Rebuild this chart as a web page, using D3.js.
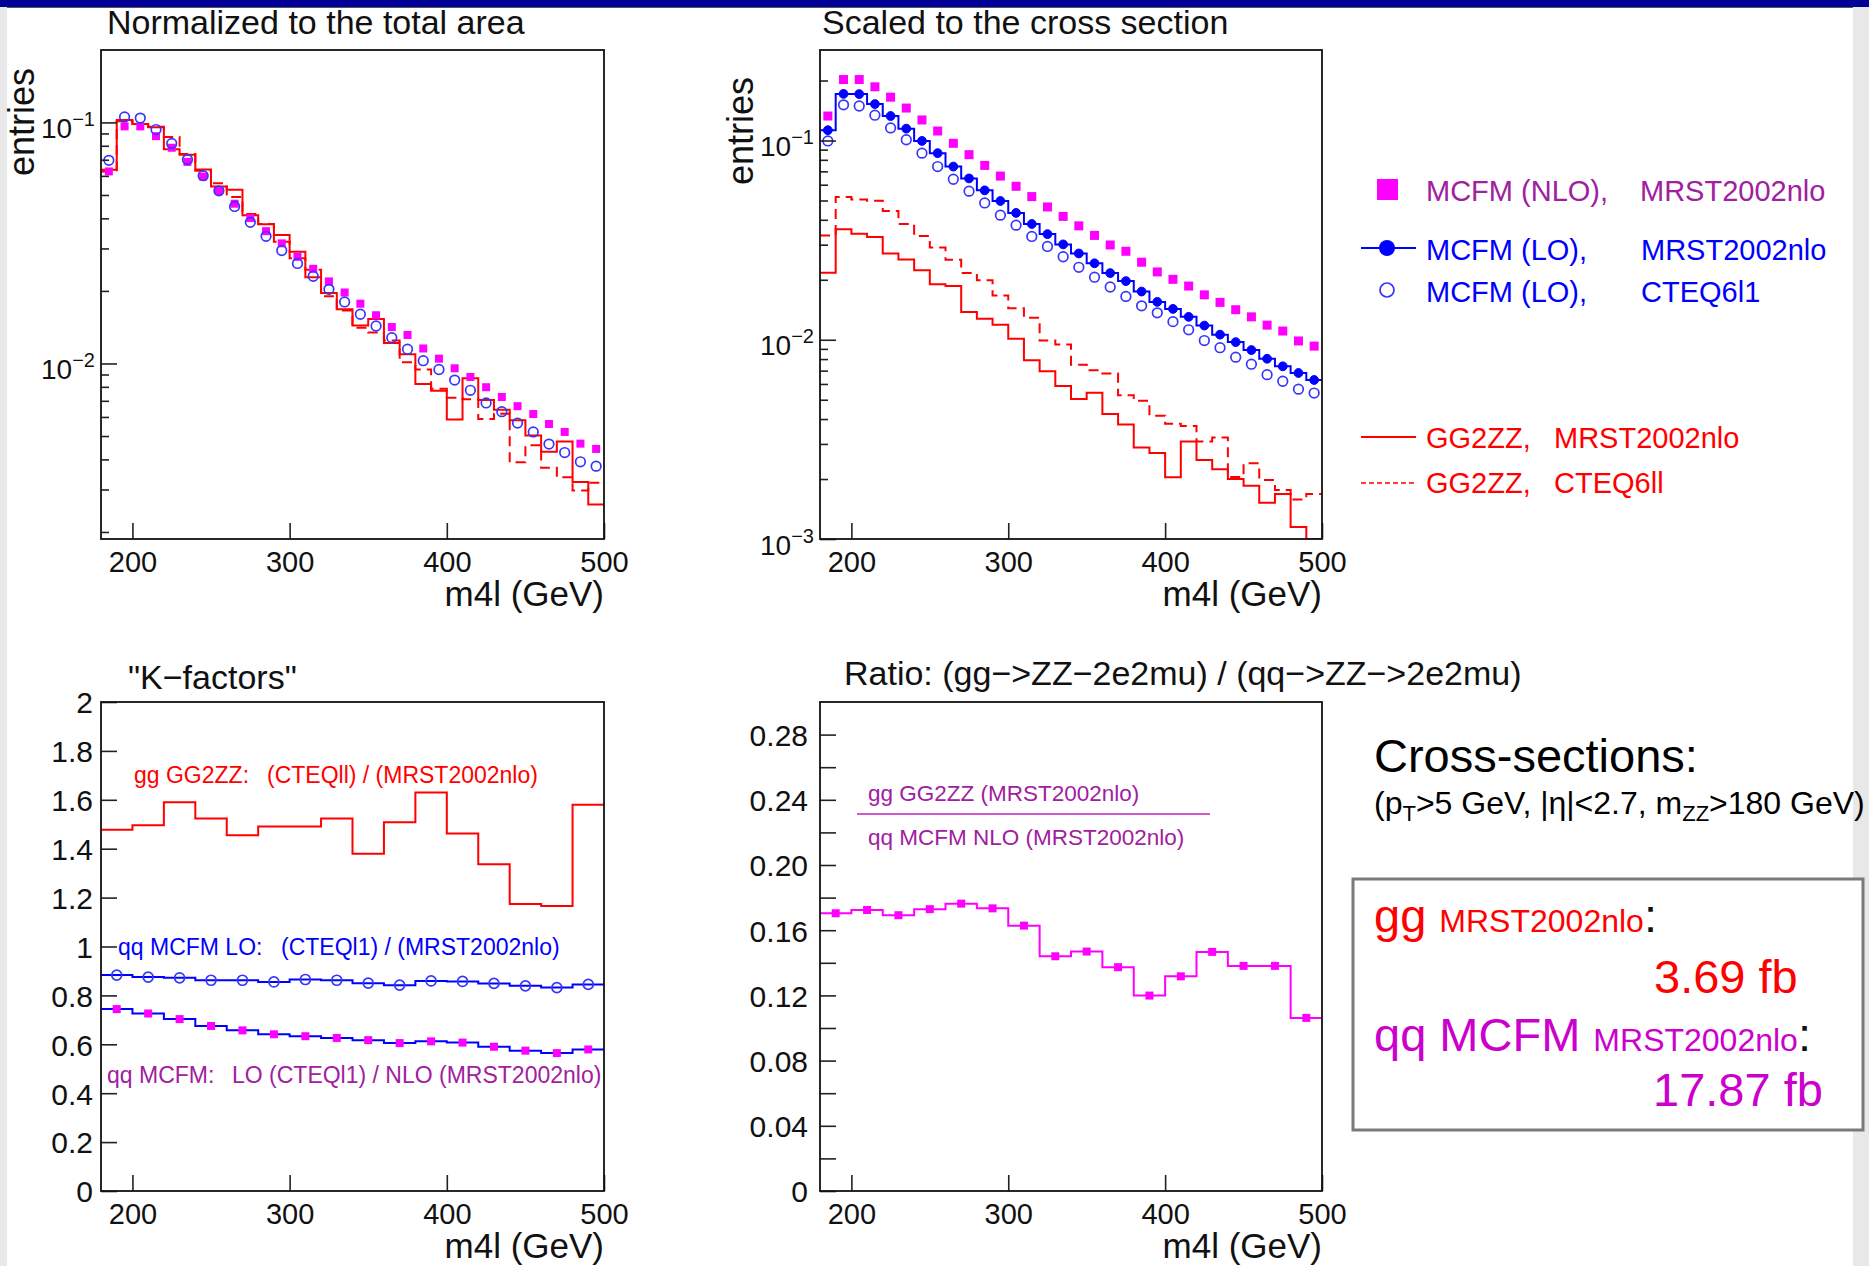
<!DOCTYPE html>
<html>
<head>
<meta charset="utf-8">
<script src="https://cdn.jsdelivr.net/npm/d3@7"></script>
<style>
  body { margin: 0; background: #fff; }
  svg { display: block; }
  text { font-family: "Liberation Sans", Arial, Helvetica, sans-serif; }
</style>
</head>
<body>
<svg id="fig" width="1869" height="1266"></svg>
<script>
// ---------- data ----------
// m4l bin centres (GeV): 10 GeV bins for the spectra, 20 GeV bins for the ratios
const massCenters10 = [185,195,205,215,225,235,245,255,265,275,285,295,305,315,325,335,
                       345,355,365,375,385,395,405,415,425,435,445,455,465,475,485,495];
const massCenters20 = [190,210,230,250,270,290,310,330,350,370,390,410,430,450,470,490];
const massRange = [180, 500];
const massTicks = [200, 300, 400, 500];

// Normalized to the total area
const normNLO = [0.0626,0.0963,0.0963,0.0877,0.0785,0.0686,0.0596,0.0519,0.0460,0.0401,0.0354,0.0315,
  0.0277,0.0247,0.0219,0.0197,0.0177,0.01585,0.01416,0.01313,0.01154,0.01047,0.00955,0.00879,
  0.00797,0.00726,0.00665,0.00617,0.00561,0.00520,0.00465,0.00442];
const normLOcteq = [0.0696,0.1054,0.1042,0.0934,0.0818,0.0701,0.0601,0.0520,0.0448,0.0385,0.0337,0.0294,
  0.0260,0.0230,0.0203,0.0180,0.0160,0.0143,0.0128,0.01146,0.01027,0.00944,0.00853,0.00774,
  0.00686,0.00631,0.00566,0.00520,0.00463,0.00427,0.00391,0.00375];
const normGGmrst = [0.0636,0.1023,0.0985,0.0955,0.0774,0.0734,0.0638,0.0542,0.0526,0.0412,0.0378,0.0341,
  0.0291,0.0228,0.0196,0.0168,0.01436,0.01531,0.01217,0.01091,0.00822,0.00771,0.00585,0.00869,
  0.00706,0.00643,0.00581,0.00503,0.00430,0.00475,0.00322,0.00260];
const normGGcteq = [0.0626,0.1010,0.0985,0.0960,0.0869,0.0739,0.0630,0.0559,0.0490,0.0417,0.0379,0.0320,
  0.0273,0.0245,0.0190,0.0166,0.01406,0.01343,0.01245,0.01011,0.00944,0.00785,0.00720,0.00711,
  0.00589,0.00619,0.00389,0.00458,0.00369,0.00337,0.00297,0.00320];

// Scaled to the cross section
const xsecNLO = [0.1327,0.2023,0.2023,0.186,0.165,0.1455,0.1268,0.1116,0.0968,0.0849,0.0750,0.0663,
  0.0589,0.0523,0.0464,0.0416,0.0373,0.0334,0.0299,0.0278,0.0245,0.0219,0.0201,0.0186,
  0.0168,0.0154,0.01415,0.01303,0.01184,0.01106,0.00986,0.00929];
const xsecLOmrst = [0.1126,0.1714,0.171,0.1524,0.1327,0.1147,0.0995,0.0864,0.0740,0.0645,0.0562,0.0497,
  0.0433,0.0381,0.0339,0.0301,0.0271,0.0242,0.0216,0.0197,0.01746,0.01549,0.01428,0.01303,
  0.01178,0.01061,0.00973,0.00888,0.00803,0.00736,0.00681,0.00628];
const xsecLOcteq = [0.0995,0.151,0.149,0.134,0.1157,0.1009,0.0864,0.0740,0.0639,0.0557,0.0486,0.0422,
  0.0376,0.0330,0.0294,0.0261,0.0231,0.0206,0.0184,0.0165,0.0148,0.01365,0.01233,0.01122,
  0.00991,0.00912,0.00818,0.00754,0.00668,0.00619,0.00565,0.00540];
const xsecGGmrst = [0.0217,0.0359,0.0340,0.0328,0.0271,0.0253,0.0223,0.0190,0.0186,0.01377,0.01274,0.01189,
  0.01013,0.00788,0.00694,0.00586,0.00504,0.00542,0.00424,0.00376,0.00288,0.00270,0.00204,0.00309,
  0.00249,0.00224,0.00200,0.00185,0.00152,0.00168,0.00115,0.00095];
const xsecGGcteq = [0.0334,0.0520,0.0506,0.0499,0.0443,0.0381,0.0332,0.0290,0.0252,0.0216,0.0199,0.0167,
  0.0144,0.0129,0.00991,0.00946,0.00750,0.00703,0.00678,0.00527,0.00494,0.00416,0.00379,0.00369,
  0.00309,0.00323,0.00205,0.00240,0.00198,0.00176,0.00158,0.00168];

// "K-factors"
const kGGcteqOverMrst = [1.477,1.496,1.590,1.524,1.455,1.491,1.491,1.524,1.379,1.508,1.630,1.462,1.336,1.174,1.166,1.580];
const kLOcteqOverMrst = [0.883,0.875,0.872,0.862,0.862,0.855,0.865,0.862,0.850,0.842,0.859,0.857,0.849,0.839,0.832,0.845];
const kLOcteqOverNLO  = [0.744,0.726,0.703,0.675,0.657,0.641,0.633,0.626,0.617,0.605,0.612,0.607,0.590,0.574,0.564,0.579];
const kFactorTicks = [0,0.2,0.4,0.6,0.8,1,1.2,1.4,1.6,1.8,2];

// gg / qq ratio
const ratioGGoverQQ = [0.1704,0.1724,0.1692,0.1729,0.1763,0.1734,0.1628,0.1440,0.1469,0.1373,0.1199,0.1317,0.1467,0.1381,0.1381,0.1062];
const ratioTicks = [0,0.04,0.08,0.12,0.16,0.20,0.24,0.28];
const ratioMinorTicks = [0.02,0.06,0.10,0.14,0.18,0.22,0.26];

// ---------- styling ----------
const C = {
  magenta: "#ff00ff", purpleText: "#a020a0", boxMagenta: "#cc00cc",
  blue: "#0000ff", openBlue: "#3535ff", red: "#ff0000", axis: "#111"
};
const W = 1869, H = 1266;
const svg = d3.select("#fig");

// page background and slide border
svg.append("rect").attr("width", W).attr("height", H).attr("fill", "#fff");
svg.append("rect").attr("x", 0).attr("y", 0).attr("width", 7).attr("height", H).attr("fill", "#e8e8e8");
svg.append("rect").attr("x", 1853).attr("y", 0).attr("width", 16).attr("height", H).attr("fill", "#e8e8e8");
svg.append("rect").attr("x", 0).attr("y", 0).attr("width", W).attr("height", 7).attr("fill", "#000096");
svg.append("line").attr("x1", 7).attr("x2", 1853).attr("y1", 7.5).attr("y2", 7.5)
  .attr("stroke", "#555").attr("stroke-width", 1);

function text(x, y, str, size, color, anchor) {
  return svg.append("text").attr("x", x).attr("y", y).attr("font-size", size)
    .attr("fill", color).attr("text-anchor", anchor || "start")
    .style("white-space", "pre").text(str);
}

let clipCount = 0;
function makePanel(box, yScale) {
  const x = d3.scaleLinear().domain(massRange).range([box.x0, box.x1]);
  const y = yScale.range([box.y1, box.y0]).clamp(true);
  const g = svg.append("g");
  const id = "plotclip" + (clipCount++);
  svg.append("clipPath").attr("id", id).append("rect")
    .attr("x", box.x0).attr("y", box.y0).attr("width", box.x1 - box.x0).attr("height", box.y1 - box.y0);
  const plot = g.append("g").attr("clip-path", `url(#${id})`);
  return { box, x, y, g, plot };
}

function styleAxis(sel, fontSize) {
  sel.select(".domain").remove();
  sel.selectAll(".tick line").attr("stroke", "#222").attr("stroke-width", 1.6);
  sel.selectAll(".tick text").attr("font-size", fontSize).attr("fill", C.axis);
}

function drawXAxis(p) {
  const ax = p.g.append("g").attr("transform", `translate(0,${p.box.y1})`)
    .call(d3.axisBottom(p.x).tickValues(massTicks).tickSizeInner(-16).tickSizeOuter(0)
      .tickPadding(12).tickFormat(d3.format("d")));
  styleAxis(ax, 29);
  text(p.box.x1, p.box.y1 + 67, "m4l (GeV)", 35, C.axis, "end");
}

function drawLinearYAxis(p, ticks, minorTicks, fmt, pad) {
  const ax = p.g.append("g").attr("transform", `translate(${p.box.x0},0)`)
    .call(d3.axisLeft(p.y).tickValues(ticks).tickSizeInner(-16).tickSizeOuter(0)
      .tickPadding(pad).tickFormat(fmt));
  styleAxis(ax, 30);
  ax.selectAll(".tick text").attr("dy", "0.36em");
  if (minorTicks) {
    const mx = p.g.append("g").attr("transform", `translate(${p.box.x0},0)`)
      .call(d3.axisLeft(p.y).tickValues(minorTicks).tickSizeInner(-16).tickSizeOuter(0).tickFormat(""));
    styleAxis(mx, 30);
  }
}

function drawLogYAxis(p, decades) {
  const ax = p.g.append("g").attr("transform", `translate(${p.box.x0},0)`)
    .call(d3.axisLeft(p.y).tickValues(decades).tickSizeInner(-16).tickSizeOuter(0)
      .tickPadding(6).tickFormat(""));
  styleAxis(ax, 28);
  ax.selectAll(".tick text").attr("dy", 15).each(function (d) {
    const t = d3.select(this);
    t.text("10");
    t.append("tspan").attr("dy", -12).attr("font-size", 20)
      .text("\u2212" + Math.round(-Math.log10(d)));
  });
  const minor = p.y.ticks().filter(v => Math.abs(Math.log10(v) - Math.round(Math.log10(v))) > 1e-6);
  const mx = p.g.append("g").attr("transform", `translate(${p.box.x0},0)`)
    .call(d3.axisLeft(p.y).tickValues(minor).tickSizeInner(-8).tickSizeOuter(0).tickFormat(""));
  styleAxis(mx, 28);
}

function drawFrame(p) {
  p.g.append("rect").attr("x", p.box.x0).attr("y", p.box.y0)
    .attr("width", p.box.x1 - p.box.x0).attr("height", p.box.y1 - p.box.y0)
    .attr("fill", "none").attr("stroke", C.axis).attr("stroke-width", 1.8);
}

// histogram outline drawn bin by bin
function stepHist(p, centers, values, binWidth, color, dash, width) {
  const pts = centers.map((c, i) => [c - binWidth / 2, values[i]]);
  pts.push([centers[centers.length - 1] + binWidth / 2, values[values.length - 1]]);
  const line = d3.line().x(d => p.x(d[0])).y(d => p.y(d[1])).curve(d3.curveStepAfter);
  p.plot.append("path").attr("d", line(pts)).attr("fill", "none")
    .attr("stroke", color).attr("stroke-width", width || 2)
    .attr("stroke-dasharray", dash || null);
}

function squares(p, centers, values, size, color) {
  p.plot.append("g").selectAll("rect").data(values).join("rect")
    .attr("x", (d, i) => p.x(centers[i]) - size / 2).attr("y", d => p.y(d) - size / 2)
    .attr("width", size).attr("height", size).attr("fill", color);
}

function circles(p, centers, values, r, color, filled) {
  p.plot.append("g").selectAll("circle").data(values).join("circle")
    .attr("cx", (d, i) => p.x(centers[i])).attr("cy", d => p.y(d)).attr("r", r)
    .attr("fill", filled ? color : "none").attr("stroke", color)
    .attr("stroke-width", filled ? 1 : 1.7);
}

// ---------- panel 1: normalized to the total area ----------
const p1 = makePanel({ x0: 101, x1: 604, y0: 50, y1: 539 }, d3.scaleLog().domain([0.00187, 0.1997]));
stepHist(p1, massCenters10, normGGmrst, 10, C.red, null, 2);
stepHist(p1, massCenters10, normGGcteq, 10, C.red, "10,6", 2);
squares(p1, massCenters10, normNLO, 8, C.magenta);
circles(p1, massCenters10, normLOcteq, 4.8, C.openBlue, false);
drawLogYAxis(p1, [0.1, 0.01]);
drawXAxis(p1);
drawFrame(p1);
text(107, 34, "Normalized to the total area", 34, C.axis);
text(34, 122, "entries", 36, C.axis, "middle").attr("transform", "rotate(-90,34,122)");

// ---------- panel 2: scaled to the cross section ----------
const p2 = makePanel({ x0: 820, x1: 1322, y0: 50, y1: 539 }, d3.scaleLog().domain([0.001, 0.2846]));
stepHist(p2, massCenters10, xsecGGmrst, 10, C.red, null, 2);
stepHist(p2, massCenters10, xsecGGcteq, 10, C.red, "10,6", 2);
stepHist(p2, massCenters10, xsecLOmrst, 10, C.blue, null, 2);
circles(p2, massCenters10, xsecLOmrst, 4.4, C.blue, true);
circles(p2, massCenters10, xsecLOcteq, 4.8, C.openBlue, false);
squares(p2, massCenters10, xsecNLO, 9, C.magenta);
drawLogYAxis(p2, [0.1, 0.01, 0.001]);
drawXAxis(p2);
drawFrame(p2);
text(822, 34, "Scaled to the cross section", 34, C.axis);
text(753, 131, "entries", 36, C.axis, "middle").attr("transform", "rotate(-90,753,131)");

// legend for the spectra
svg.append("rect").attr("x", 1377).attr("y", 179).attr("width", 21).attr("height", 21).attr("fill", C.magenta);
text(1426, 201, "MCFM (NLO),", 29, C.purpleText);
text(1640, 201, "MRST2002nlo", 29, C.purpleText);
svg.append("line").attr("x1", 1361).attr("x2", 1416).attr("y1", 248).attr("y2", 248)
  .attr("stroke", C.blue).attr("stroke-width", 2);
svg.append("circle").attr("cx", 1387).attr("cy", 248).attr("r", 8).attr("fill", C.blue);
text(1426, 260, "MCFM (LO),", 29, C.blue);
text(1641, 260, "MRST2002nlo", 29, C.blue);
svg.append("circle").attr("cx", 1387).attr("cy", 290).attr("r", 7)
  .attr("fill", "none").attr("stroke", C.openBlue).attr("stroke-width", 1.7);
text(1426, 302, "MCFM (LO),", 29, C.blue);
text(1641, 302, "CTEQ6l1", 29, C.blue);
svg.append("line").attr("x1", 1361).attr("x2", 1416).attr("y1", 437).attr("y2", 437)
  .attr("stroke", C.red).attr("stroke-width", 2);
text(1426, 448, "GG2ZZ,", 29, C.red);
text(1554, 448, "MRST2002nlo", 29, C.red);
svg.append("line").attr("x1", 1361).attr("x2", 1416).attr("y1", 483).attr("y2", 483)
  .attr("stroke", C.red).attr("stroke-width", 1.5).attr("stroke-dasharray", "5,3");
text(1426, 493, "GG2ZZ,", 29, C.red);
text(1554, 493, "CTEQ6ll", 29, C.red);

// ---------- panel 3: K-factors ----------
const p3 = makePanel({ x0: 101, x1: 604, y0: 702, y1: 1191 }, d3.scaleLinear().domain([0, 2]));
stepHist(p3, massCenters20, kGGcteqOverMrst, 20, C.red, null, 2);
stepHist(p3, massCenters20, kLOcteqOverMrst, 20, C.blue, null, 2);
circles(p3, massCenters20, kLOcteqOverMrst, 5, C.openBlue, false);
stepHist(p3, massCenters20, kLOcteqOverNLO, 20, C.blue, null, 2);
squares(p3, massCenters20, kLOcteqOverNLO, 8, C.magenta);
drawLinearYAxis(p3, kFactorTicks, null, d3.format("~g"), 8);
drawXAxis(p3);
drawFrame(p3);
text(128, 689, "\"K\u2212factors\"", 34, C.axis);
text(134, 783, "gg GG2ZZ:", 23, C.red);
text(267, 783, "(CTEQll) / (MRST2002nlo)", 23, C.red);
text(118, 955, "qq MCFM LO:", 23, C.blue);
text(281, 955, "(CTEQl1) / (MRST2002nlo)", 23, C.blue);
text(107, 1083, "qq MCFM:", 23, C.purpleText);
text(232, 1083, "LO (CTEQl1) / NLO (MRST2002nlo)", 23, C.purpleText);

// ---------- panel 4: gg / qq ratio ----------
const p4 = makePanel({ x0: 820, x1: 1322, y0: 702, y1: 1191 }, d3.scaleLinear().domain([0, 0.3]));
stepHist(p4, massCenters20, ratioGGoverQQ, 20, C.magenta, null, 2);
squares(p4, massCenters20, ratioGGoverQQ, 8, C.magenta);
drawLinearYAxis(p4, ratioTicks, ratioMinorTicks, d => d === 0 ? "0" : d3.format(".2f")(d), 12);
drawXAxis(p4);
drawFrame(p4);
text(844, 685, "Ratio: (gg\u2212>ZZ\u22122e2mu) / (qq\u2212>ZZ\u2212>2e2mu)", 34, C.axis);
text(868, 801, "gg GG2ZZ (MRST2002nlo)", 22.5, C.purpleText);
svg.append("line").attr("x1", 857).attr("x2", 1210).attr("y1", 814).attr("y2", 814)
  .attr("stroke", "#c020c0").attr("stroke-width", 1.6);
text(868, 845, "qq MCFM NLO (MRST2002nlo)", 22.5, C.purpleText);

// ---------- cross-section summary ----------
text(1374, 772, "Cross-sections:", 47, "#000");
const cuts = svg.append("text").attr("x", 1374).attr("y", 814).attr("font-size", 32).attr("fill", "#000");
cuts.append("tspan").text("(p");
cuts.append("tspan").attr("dy", 7).attr("font-size", 22).text("T");
cuts.append("tspan").attr("dy", -7).text(">5 GeV, |\u03b7|<2.7, m");
cuts.append("tspan").attr("dy", 7).attr("font-size", 22).text("ZZ");
cuts.append("tspan").attr("dy", -7).text(">180 GeV)");

svg.append("rect").attr("x", 1353).attr("y", 879).attr("width", 510).attr("height", 251)
  .attr("fill", "#fff").attr("stroke", "#7a7a7a").attr("stroke-width", 3);
const ggLine = svg.append("text").attr("x", 1374).attr("y", 932).attr("font-size", 47).attr("fill", C.red);
ggLine.append("tspan").text("gg ");
ggLine.append("tspan").attr("font-size", 32).text("MRST2002nlo");
ggLine.append("tspan").attr("fill", "#111").text(":");
text(1654, 993, "3.69 fb", 47, C.red);
const qqLine = svg.append("text").attr("x", 1374).attr("y", 1051).attr("font-size", 47).attr("fill", C.boxMagenta);
qqLine.append("tspan").text("qq MCFM ");
qqLine.append("tspan").attr("font-size", 32).text("MRST2002nlo");
qqLine.append("tspan").attr("fill", "#111").text(":");
text(1653, 1106, "17.87 fb", 47, C.boxMagenta);
</script>
</body>
</html>
